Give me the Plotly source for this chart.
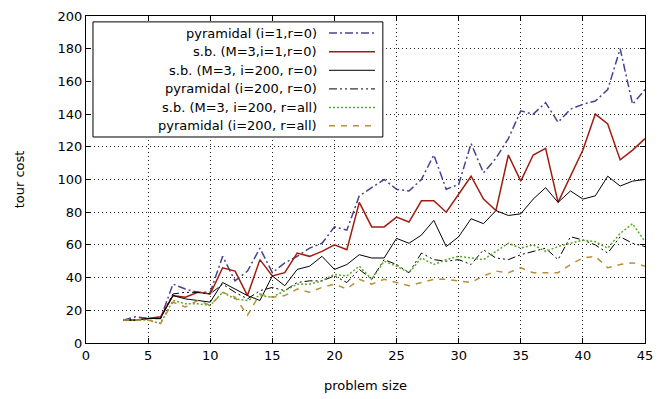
import plotly.graph_objects as go

sizes = list(range(3, 46))

pyr_i1_r0 = [14, 16, 15, 15, 36, 33, 31, 31, 53, 38, 44, 58, 43, 49, 53, 58, 61, 71, 69, 90,
             95, 100, 94, 93, 100, 115, 94, 97, 122, 104, 113, 125, 142, 140, 147, 135, 143,
             146, 148, 155, 180, 146, 155]
sb_m3_i1_r0 = [14, 14, 15, 16, 29, 28, 31, 30, 46, 44, 29, 51, 41, 43, 55, 53, 56, 60, 57, 86,
               71, 71, 77, 74, 87, 87, 80, 91, 102, 88, 81, 115, 99, 115, 119, 86, 102,
               118, 140, 134, 112, 118, 125]
sb_m3_i200_r0 = [14, 14, 15, 15, 29, 27, 26, 25, 37, 33, 29, 26, 41, 35, 45, 47, 53, 45, 48, 54,
                 52, 52, 64, 61, 66, 75, 59, 65, 76, 73, 81, 78, 79, 88, 95, 86, 93,
                 88, 90, 102, 96, 99, 100]
pyr_i200_r0 = [14, 14, 15, 15, 30, 31, 31, 30, 36, 31, 27, 32, 34, 32, 37, 38, 38, 41, 37, 45,
               39, 51, 48, 43, 55, 51, 50, 51, 48, 57, 52, 51, 54, 56, 58, 51, 65,
               63, 60, 55, 65, 61, 59]
sb_m3_i200_rall = [14, 14, 14, 12, 26, 24, 24, 23, 31, 27, 26, 29, 28, 32, 36, 36, 38, 42, 41, 47,
                   39, 50, 47, 43, 52, 48, 51, 53, 52, 51, 56, 61, 58, 60, 56, 59, 61,
                   63, 62, 58, 67, 73, 62]
pyr_i200_rall = [14, 14, 14, 12, 25, 22, 26, 23, 31, 28, 17, 30, 28, 29, 33, 31, 34, 36, 33, 39,
                 36, 39, 37, 35, 37, 39, 39, 38, 37, 41, 44, 43, 46, 43, 43, 43, 48,
                 52, 53, 46, 48, 49, 47]

names = ["pyramidal (i=1,r=0)", "s.b. (M=3,i=1,r=0)", "s.b. (M=3, i=200, r=0)",
         "pyramidal (i=200, r=0)", "s.b. (M=3, i=200, r=all)", "pyramidal (i=200, r=all)"]
series = [pyr_i1_r0, sb_m3_i1_r0, sb_m3_i200_r0, pyr_i200_r0, sb_m3_i200_rall, pyr_i200_rall]
colors = ["#45458f", "#a01c10", "#000000", "#000000", "#5aaa28", "#b8903a"]
dashes = ["8px,3px,2px,3px", "solid", "solid", "8px,3px,2px,3px,2px,3px", "2px,2px", "6px,6px"]
widths = [1.5, 1.5, 1.0, 1.0, 1.5, 1.5]

font = "DejaVu Sans, sans-serif"
fig = go.Figure()
for nm, ys, c, d, w in zip(names, series, colors, dashes, widths):
    fig.add_trace(go.Scatter(x=sizes, y=ys, mode="lines", name=nm,
                             line=dict(color=c, dash=d, width=w), showlegend=False))

# manual gnuplot-style legend (text right-aligned, sample on the right)
shapes = [dict(type="rect", xref="paper", yref="paper", x0=0.0125, x1=0.531, y0=0.630, y1=0.982,
               line=dict(color="black", width=1), fillcolor="white", layer="above")]
annotations = []
row_y = [0.948, 0.891, 0.834, 0.777, 0.720, 0.664]
for nm, c, d, w, ry in zip(names, colors, dashes, widths, row_y):
    annotations.append(dict(xref="paper", yref="paper", x=0.4168, y=ry, text=nm, showarrow=False,
                            xanchor="right", yanchor="middle", font=dict(family=font, size=13, color="black")))
    shapes.append(dict(type="line", xref="paper", yref="paper", x0=0.4347, x1=0.517, y0=ry, y1=ry,
                       line=dict(color=c, dash=d, width=w), layer="above"))

axis_common = dict(showline=True, linecolor="black", linewidth=1, mirror="ticks",
                   ticks="inside", ticklen=5, tickcolor="black", automargin=False,
                   showgrid=True, gridcolor="rgba(0,0,0,0.85)", griddash="1px,3px", gridwidth=1,
                   zeroline=False, tickfont=dict(family=font, size=13, color="black"))

fig.update_layout(
    width=658, height=399,
    margin=dict(l=86, r=13, t=16, b=56),
    plot_bgcolor="white", paper_bgcolor="white",
    xaxis=dict(range=[0, 45], dtick=5, tick0=0,
               title=dict(text="problem size", font=dict(family=font, size=13, color="black"), standoff=19),
               **axis_common),
    yaxis=dict(range=[0, 200], dtick=20, tick0=0,
               title=dict(text="tour cost", font=dict(family=font, size=13, color="black"), standoff=30),
               **axis_common),
    shapes=shapes, annotations=annotations,
)

fig.write_html("out.html")
